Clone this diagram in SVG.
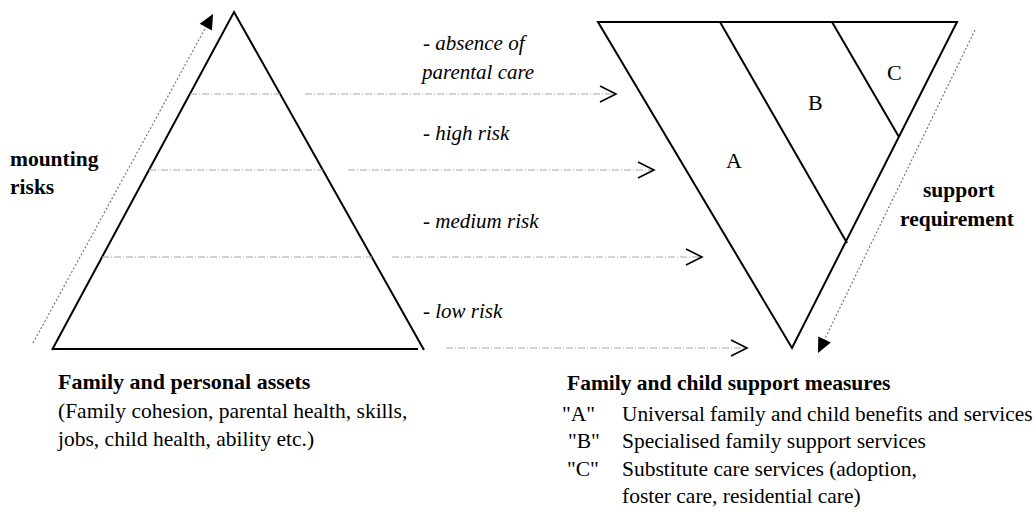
<svg xmlns="http://www.w3.org/2000/svg" width="1036" height="512" viewBox="0 0 1036 512">
<style>
.shape{fill:none;stroke:#000;stroke-width:2;stroke-linejoin:miter}
.layer{fill:none;stroke:#a8a8a8;stroke-width:1;stroke-dasharray:7,2,1,2}
.flow{fill:none;stroke:#a8a8a8;stroke-width:1;stroke-dasharray:7,2,1,2}
.trend{fill:none;stroke:#777;stroke-width:1.2;stroke-dasharray:2,2}
.t{font-family:'Liberation Serif',serif;font-size:21.5px;fill:#000}
.b{font-weight:bold}
.bb{font-weight:bold;font-size:22px}
.i{font-style:italic;font-size:21px}
.lbl{font-size:22px}
.u{font-size:21.3px}
</style>
<defs>
<marker id="chev" markerUnits="userSpaceOnUse" markerWidth="20" markerHeight="20" refX="16" refY="8" orient="auto" overflow="visible">
<path d="M0,0 L16,8 L0,16" fill="none" stroke="#000" stroke-width="1.6" stroke-dasharray="none"/>
</marker>
<marker id="tri" markerUnits="userSpaceOnUse" markerWidth="20" markerHeight="20" refX="15" refY="7" orient="auto" overflow="visible">
<path d="M0,0 L15,7 L0,14 Z" fill="#000" stroke="none"/>
</marker>
</defs>

<g id="risk-pyramid">
<path class="shape" d="M52,350 L234,12 L424,350"/>
<line class="shape" x1="52" y1="349" x2="418" y2="349"/>
<line class="layer" x1="190" y1="94" x2="280" y2="94"/>
<line class="layer" x1="149" y1="170" x2="323" y2="170"/>
<line class="layer" x1="102" y1="257" x2="372" y2="257"/>
</g>

<g id="support-triangle">
<path class="shape" d="M598,22 L957,22 L792,348 Z"/>
<line class="shape" x1="720" y1="22" x2="847" y2="243"/>
<line class="shape" x1="832" y1="22" x2="899" y2="137"/>
<text class="t lbl" x="726" y="168">A</text>
<text class="t lbl" x="808" y="110">B</text>
<text class="t lbl" x="887" y="80">C</text>
</g>

<g id="mounting-risks-label">
<text class="t b" x="10" y="166">mounting</text>
<text class="t b" x="10" y="194">risks</text>
</g>

<g id="support-requirement-label">
<text class="t b" x="923" y="197">support</text>
<text class="t b" x="900" y="226">requirement</text>
</g>

<g id="risk-levels">
<text class="t i" x="423" y="50">- absence of</text>
<text class="t i" x="422" y="79">parental care</text>
<text class="t i" x="423" y="140">- high risk</text>
<text class="t i" x="423" y="228">- medium risk</text>
<text class="t i" x="423" y="318">- low risk</text>
</g>

<g id="assets-caption">
<text class="t bb" x="58" y="389">Family and personal assets</text>
<text class="t" x="58" y="418">(Family cohesion, parental health, skills,</text>
<text class="t" x="58" y="446">jobs, child health, ability etc.)</text>
</g>

<g id="measures-legend">
<text class="t b" x="567" y="390">Family and child support measures</text>
<text class="t" x="562" y="421">"A"</text>
<text class="t u" x="622" y="421">Universal family and child benefits and services</text>
<text class="t" x="568" y="448">"B"</text>
<text class="t" x="622" y="448">Specialised family support services</text>
<text class="t" x="567" y="476">"C"</text>
<text class="t" x="622" y="476">Substitute care services (adoption,</text>
<text class="t" x="622" y="503">foster care, residential care)</text>
</g>

<g id="connectors">
<line class="flow" x1="305" y1="94" x2="616" y2="94" marker-end="url(#chev)"/>
<line class="flow" x1="348" y1="170" x2="654" y2="170" marker-end="url(#chev)"/>
<line class="flow" x1="392" y1="257" x2="702" y2="257" marker-end="url(#chev)"/>
<line class="flow" x1="446" y1="348" x2="747" y2="348" marker-end="url(#chev)"/>
<line class="trend" x1="33" y1="343" x2="213" y2="14" marker-end="url(#tri)"/>
<line class="trend" x1="975" y1="30" x2="818" y2="353" marker-end="url(#tri)"/>
</g>
</svg>
